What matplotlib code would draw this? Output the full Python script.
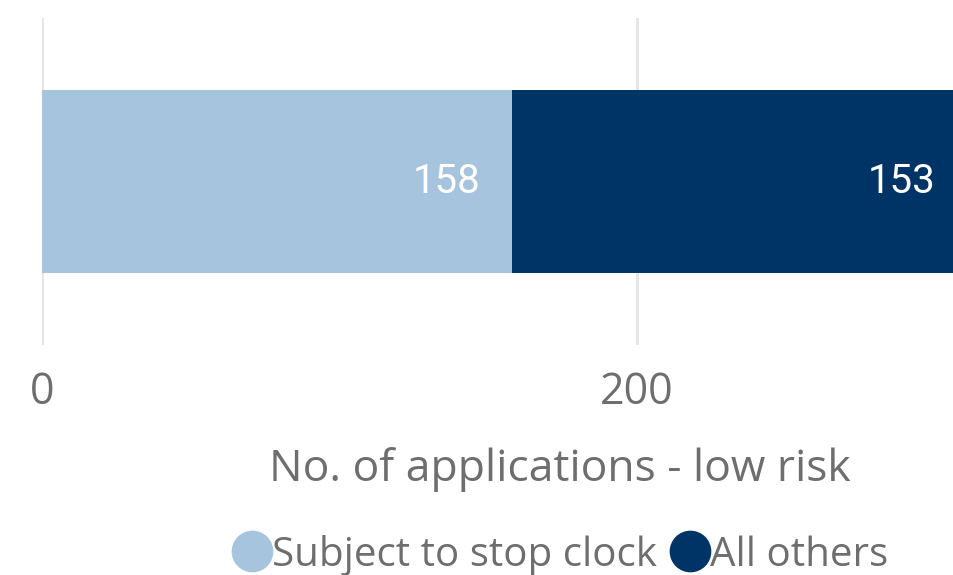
import matplotlib.pyplot as plt
import numpy as np

categories = ["low risk"]
series_names = ["Subject to stop clock", "All others"]
stop_clock = [158]
all_others = [153]
xticks = [0, 200]

colors = ["#a7c4df", "#003366"]
text_grey = "#6e6e6e"

plt.rcParams['font.family'] = ['Open Sans', 'DejaVu Sans']

fig = plt.figure(figsize=(9.54, 5.75), dpi=100)
# axes run slightly past the right edge, as in the original the bar is cut off
ax = fig.add_axes([42 / 954, 1 - 345 / 575, 925 / 954, 327 / 575])

y = np.arange(len(categories))
left = np.zeros(len(categories))
for name, vals, c in zip(series_names, [stop_clock, all_others], colors):
    bars = ax.barh(y, vals, left=left, height=0.557, color=c, label=name, zorder=2)
    for b, v in zip(bars, vals):
        ax.annotate(str(v), (b.get_x() + b.get_width(), b.get_y() + b.get_height() / 2),
                    xytext=(-23, 0), textcoords='offset points', ha='right', va='center',
                    color='white', fontsize=29, family=['Roboto', 'DejaVu Sans'])
    left += np.array(vals)

ax.set_xlim(0, 311)
ax.set_ylim(-0.5, 0.5)
ax.set_xticks(xticks)
ax.set_xticklabels([str(t) for t in xticks])
ax.set_yticks([])
ax.tick_params(axis='x', length=0, pad=18, labelsize=31, labelcolor=text_grey)
ax.grid(axis='x', color='#e6e6e6', linewidth=2.2, zorder=0)
for s in ax.spines.values():
    s.set_visible(False)

ax.set_xlabel("No. of applications - low risk", fontsize=32, color=text_grey)
ax.xaxis.set_label_coords(560 / 954, 1 - 470 / 575, transform=fig.transFigure)
ax.xaxis.label.set_va('center')

handles = [plt.Line2D([], [], marker='o', linestyle='', markersize=29, color=c) for c in colors]
fig.legend(handles, series_names, loc='center', bbox_to_anchor=(560 / 954, 1 - 555 / 575),
           ncol=2, frameon=False, fontsize=29, labelcolor=text_grey,
           handletextpad=0.0, columnspacing=0.3, handlelength=1.0)

fig.savefig("out.png", dpi=100)
